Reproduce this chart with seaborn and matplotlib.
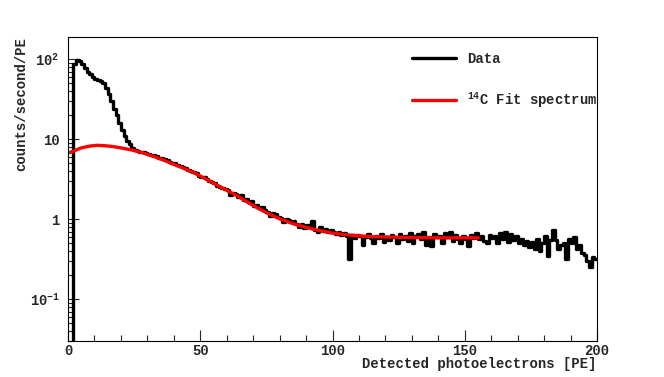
import numpy as np
import pandas as pd
import matplotlib
matplotlib.use('Agg')
import matplotlib.pyplot as plt
import matplotlib.ticker as mticker
import seaborn as sns

# ---- data ----
# bin edges 0..200 PE, 1 PE wide; counts/second/PE per bin
bin_edges = list(range(0, 201))
rate = [
    0.001, 0.001, 88, 97, 95, 88, 78, 70, 65, 60,
    57, 55, 53, 50, 44, 37, 30, 24, 20, 16,
    13, 11, 9.6, 8.6, 7.8, 7.3, 7.1, 7.0, 6.9, 6.7,
    6.6, 6.4, 6.3, 6.1, 5.9, 5.8, 5.6, 5.5, 5.2, 5.1,
    5.0, 4.8, 4.6, 4.5, 4.4, 4.1, 4.0, 3.9, 3.8, 3.5,
    3.4, 3.35, 3.2, 3.0, 2.9, 2.85, 2.6, 2.5, 2.45, 2.4,
    2.3, 2.0, 2.15, 2.05, 1.9, 1.98, 1.75, 1.8, 1.62, 1.7,
    1.45, 1.5, 1.38, 1.42, 1.3, 1.22, 1.1, 1.2, 1.15, 1.08,
    1.04, 0.92, 1.02, 0.98, 0.92, 0.94, 0.88, 0.8, 0.86, 0.78,
    0.84, 0.8, 0.95, 0.74, 0.7, 0.8, 0.72, 0.76, 0.7, 0.74,
    0.69, 0.66, 0.7, 0.64, 0.68, 0.62, 0.32, 0.64, 0.58, 0.64,
    0.62, 0.47, 0.6, 0.66, 0.58, 0.5, 0.62, 0.58, 0.65, 0.52,
    0.6, 0.55, 0.64, 0.6, 0.5, 0.66, 0.56, 0.62, 0.53, 0.68,
    0.5, 0.62, 0.66, 0.56, 0.7, 0.48, 0.6, 0.46, 0.66, 0.6,
    0.62, 0.5, 0.68, 0.6, 0.7, 0.54, 0.64, 0.56, 0.5, 0.62,
    0.56, 0.46, 0.64, 0.58, 0.68, 0.56, 0.62, 0.54, 0.5, 0.64,
    0.58, 0.62, 0.5, 0.68, 0.56, 0.7, 0.52, 0.66, 0.55, 0.62,
    0.5, 0.57, 0.48, 0.54, 0.45, 0.52, 0.42, 0.56, 0.4, 0.5,
    0.62, 0.35, 0.55, 0.74, 0.55, 0.42, 0.47, 0.5, 0.32, 0.56,
    0.5, 0.6, 0.42, 0.47, 0.38, 0.36, 0.3, 0.25, 0.34, 0.32,
]

# 14C fit spectrum
fit_pe = [0.5, 2, 5, 8, 11, 14, 17, 20, 24, 28, 32, 36, 40, 44, 48, 52, 56,
          60, 64, 68, 72, 76, 80, 85, 90, 95, 100, 105, 110, 115, 120, 130,
          140, 150, 155]
fit_rate = [6.8, 7.1, 7.8, 8.2, 8.4, 8.3, 8.1, 7.8, 7.35, 6.8, 6.15, 5.5,
            4.85, 4.3, 3.75, 3.2, 2.7, 2.3, 1.95, 1.62, 1.36, 1.16, 1.01,
            0.88, 0.79, 0.72, 0.67, 0.64, 0.62, 0.605, 0.6, 0.59, 0.585,
            0.585, 0.585]

y_ticks = [0.1, 1, 10, 100]
y_ticklabels = ['$10^{-1}$', '1', '10', '$10^{2}$']

hist_df = pd.DataFrame({'pe': [e + 0.5 for e in bin_edges[:-1]], 'rate': rate})
fit_df = pd.DataFrame({'pe': fit_pe, 'rate': fit_rate})

# ---- style ----
sns.set_style('ticks')
plt.rcParams['font.family'] = ['Liberation Mono', 'DejaVu Sans']
plt.rcParams['font.weight'] = 'bold'
plt.rcParams['mathtext.fontset'] = 'custom'
plt.rcParams['mathtext.rm'] = 'Liberation Mono:bold'
plt.rcParams['mathtext.it'] = 'Liberation Mono:bold'

fig = plt.figure(figsize=(6.64, 3.77), dpi=100)
ax = fig.add_axes([68 / 664, 1 - 341 / 377, (597 - 68) / 664, (341 - 37) / 377])

sns.histplot(data=hist_df, x='pe', weights='rate', bins=bin_edges,
             element='step', fill=False, color='black', linewidth=2.4,
             label='Data', ax=ax)
sns.lineplot(data=fit_df, x='pe', y='rate', color='red', linewidth=2.4,
             label='$^{14}$C Fit spectrum', ax=ax)

ax.set_yscale('log')
ax.set_xlim(0, 200)
ax.set_ylim(0.03, 190)

ax.xaxis.set_major_locator(mticker.MultipleLocator(50))
ax.xaxis.set_minor_locator(mticker.MultipleLocator(10))
ax.set_yticks(y_ticks)
ax.set_yticklabels(y_ticklabels)
ax.yaxis.set_minor_locator(mticker.LogLocator(base=10, subs=np.arange(2, 10)))
ax.yaxis.set_minor_formatter(mticker.NullFormatter())

ax.tick_params(axis='both', which='major', direction='in', length=8, width=0.8,
               labelsize=10, top=False, right=False)
ax.tick_params(axis='both', which='minor', direction='in', length=4, width=0.8,
               top=False, right=False)
ax.tick_params(axis='y', which='major', pad=6)
ax.tick_params(axis='x', which='major', pad=2)

for side in ax.spines.values():
    side.set_linewidth(0.8)
    side.set_color('black')

ax.set_xlabel('Detected photoelectrons [PE]', loc='right', fontsize=10,
              fontweight='bold', labelpad=-0.5)
ax.set_ylabel('counts/second/PE', loc='top', fontsize=10, fontweight='bold',
              labelpad=1)

leg = ax.legend(loc='upper left', bbox_to_anchor=(0.637, 0.975), frameon=False,
                fontsize=10, handlelength=3.2, handletextpad=0.8,
                labelspacing=1.8, borderpad=0)
for line in leg.get_lines():
    line.set_linewidth(2.4)

fig.savefig('out.png', dpi=100, facecolor='white')
